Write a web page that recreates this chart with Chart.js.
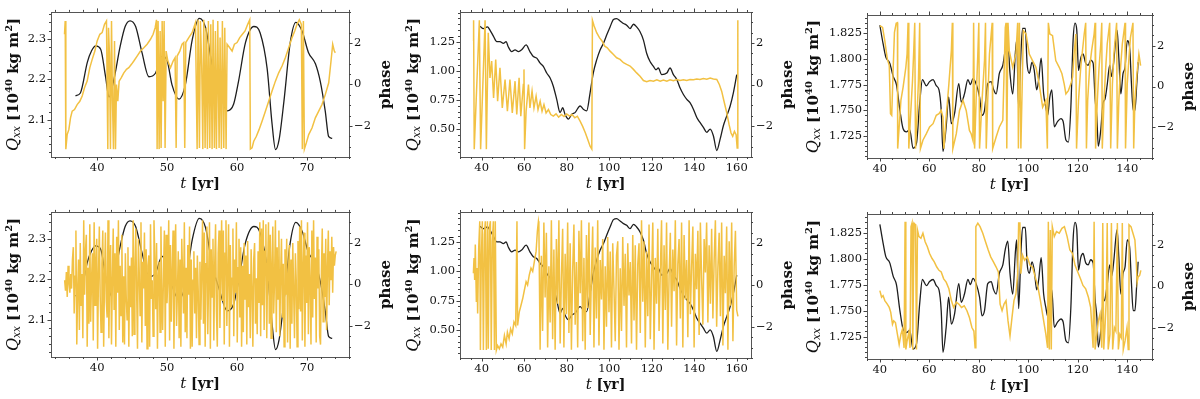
<!DOCTYPE html>
<html>
<head>
<meta charset="utf-8">
<script src="https://cdn.jsdelivr.net/npm/chart.js@4.4.0/dist/chart.umd.min.js"></script>
<style>
  html, body { margin: 0; padding: 0; background: #fff; }
  #fig { position: relative; width: 1200px; height: 399px; overflow: hidden; }
  .panel { position: absolute; width: 400px; height: 200px; }
</style>
</head>
<body>
<div id="fig">
  <div class="panel" style="left:0;top:0"><canvas id="c1" width="400" height="200"></canvas></div>
  <div class="panel" style="left:400px;top:0"><canvas id="c2" width="400" height="200"></canvas></div>
  <div class="panel" style="left:800px;top:0"><canvas id="c3" width="400" height="200"></canvas></div>
  <div class="panel" style="left:0;top:200px"><canvas id="c4" width="400" height="200"></canvas></div>
  <div class="panel" style="left:400px;top:200px"><canvas id="c5" width="400" height="200"></canvas></div>
  <div class="panel" style="left:800px;top:200px"><canvas id="c6" width="400" height="200"></canvas></div>
</div>
<script>
// --- Qxx (negro), comun a cada columna ---
const q1T = [36.9, 37.6, 38.6, 39.2, 39.8, 40.5, 41.2, 41.7, 42.4, 43.3, 44.0, 44.7, 45.5, 46.4, 47.4, 48.3, 49.3, 50.0, 50.7, 51.7, 52.6, 53.6, 54.6, 55.5, 56.4, 57.4, 58.6, 59.5, 60.2, 61.2, 62.4, 63.3, 64.3, 65.0, 65.5, 66.0, 66.7, 67.6, 68.4, 69.3, 70.2, 71.2, 71.9, 72.6, 73.1, 73.6];
const q1V = [2.159, 2.166, 2.242, 2.27, 2.282, 2.274, 2.206, 2.156, 2.2, 2.282, 2.33, 2.344, 2.33, 2.266, 2.206, 2.214, 2.256, 2.246, 2.186, 2.151, 2.186, 2.298, 2.35, 2.327, 2.238, 2.178, 2.122, 2.138, 2.194, 2.29, 2.33, 2.314, 2.226, 2.09, 2.026, 2.05, 2.146, 2.29, 2.34, 2.318, 2.266, 2.238, 2.194, 2.122, 2.058, 2.054];

const q2T = [39.2, 40.8, 42.7, 43.9, 45.5, 47.1, 48.6, 50.2, 51.5, 52.5, 54.1, 55.7, 57.3, 58.8, 60.9, 62.7, 64.3, 65.9, 67.5, 69.0, 70.6, 72.2, 73.7, 75.3, 76.9, 78.1, 79.2, 80.8, 82.4, 83.9, 86.3, 87.8, 89.4, 91.0, 92.5, 94.1, 95.7, 97.3, 98.8, 100.4, 102.0, 103.5, 105.1, 106.7, 108.2, 109.8, 111.4, 112.9, 114.5, 116.1, 117.6, 119.2, 120.8, 122.0, 123.1, 124.7, 127.1, 128.6, 130.2, 131.8, 133.3, 134.9, 136.5, 138.0, 139.6, 141.2, 142.7, 144.3, 145.9, 147.5, 149.0, 150.6, 152.2, 153.7, 155.3, 156.9, 158.4, 160.0];
const q2V = [1.383, 1.363, 1.377, 1.35, 1.298, 1.25, 1.25, 1.236, 1.25, 1.207, 1.165, 1.18, 1.165, 1.18, 1.222, 1.165, 1.123, 1.109, 1.066, 1.038, 0.981, 0.939, 0.868, 0.755, 0.641, 0.684, 0.627, 0.585, 0.627, 0.641, 0.698, 0.67, 0.656, 0.811, 0.981, 1.094, 1.179, 1.236, 1.307, 1.377, 1.44, 1.448, 1.428, 1.406, 1.392, 1.363, 1.4, 1.377, 1.335, 1.264, 1.151, 1.08, 1.038, 1.009, 1.024, 0.967, 0.981, 1.024, 0.967, 0.925, 0.854, 0.797, 0.755, 0.726, 0.67, 0.599, 0.557, 0.514, 0.472, 0.5, 0.443, 0.316, 0.415, 0.528, 0.613, 0.698, 0.811, 0.967];

const q3T = [40.0, 41.3, 42.4, 44.0, 45.4, 46.7, 48.1, 49.4, 50.7, 52.1, 53.4, 54.8, 56.1, 57.2, 58.8, 60.1, 61.5, 62.8, 63.9, 64.8, 65.5, 66.8, 67.8, 68.9, 70.2, 71.9, 72.9, 74.2, 75.6, 76.6, 77.6, 78.9, 80.3, 81.3, 82.3, 83.6, 85.0, 86.0, 87.0, 88.3, 89.7, 90.7, 91.7, 92.6, 93.7, 94.8, 95.3, 96.1, 97.0, 97.7, 98.8, 99.5, 100.4, 101.5, 102.4, 103.4, 104.2, 105.2, 106.2, 107.1, 107.8, 108.7, 109.5, 110.5, 111.8, 113.2, 114.1, 115.2, 116.2, 117.2, 118.1, 118.9, 119.6, 120.3, 121.2, 122.1, 123.2, 124.2, 125.2, 126.2, 127.0, 127.7, 128.3, 129.3, 130.2, 131.0, 131.9, 132.9, 133.7, 134.6, 135.3, 135.9, 136.6, 137.4, 138.3, 139.1, 140.0, 141.0, 141.7, 142.4, 143.1, 143.8, 144.4];
const q3V = [1.833, 1.815, 1.802, 1.796, 1.783, 1.775, 1.75, 1.732, 1.729, 1.731, 1.713, 1.718, 1.757, 1.78, 1.774, 1.778, 1.78, 1.774, 1.77, 1.75, 1.71, 1.734, 1.763, 1.737, 1.747, 1.776, 1.758, 1.766, 1.78, 1.775, 1.781, 1.776, 1.763, 1.745, 1.75, 1.776, 1.778, 1.77, 1.766, 1.786, 1.794, 1.809, 1.817, 1.786, 1.766, 1.807, 1.818, 1.752, 1.805, 1.83, 1.83, 1.796, 1.786, 1.797, 1.789, 1.77, 1.78, 1.801, 1.766, 1.753, 1.745, 1.763, 1.77, 1.734, 1.739, 1.742, 1.739, 1.721, 1.719, 1.753, 1.818, 1.835, 1.828, 1.789, 1.801, 1.805, 1.796, 1.794, 1.799, 1.796, 1.761, 1.744, 1.715, 1.731, 1.757, 1.761, 1.775, 1.794, 1.783, 1.799, 1.818, 1.828, 1.801, 1.766, 1.786, 1.792, 1.818, 1.81, 1.776, 1.75, 1.75, 1.774, 1.797];

// --- fase (amarillo), fila superior ---
const p1T = [35.33, 35.43, 35.52, 35.71, 35.95, 36.19, 36.43, 36.76, 37.14, 37.52, 37.86, 38.19, 38.57, 38.95, 39.29, 39.67, 40.0, 40.38, 40.71, 41.05, 41.33, 41.52, 41.62, 41.76, 41.9, 42.05, 42.19, 42.33, 42.48, 42.62, 42.76, 42.95, 43.14, 43.43, 43.81, 44.19, 44.52, 44.9, 45.24, 45.71, 46.19, 46.67, 47.14, 47.62, 48.0, 48.29, 48.48, 48.57, 48.71, 48.86, 49.0, 49.14, 49.29, 49.43, 49.57, 49.71, 49.86, 50.1, 50.48, 50.86, 51.14, 51.29, 51.43, 51.81, 52.14, 52.38, 52.52, 52.67, 53.1, 53.57, 54.05, 54.29, 54.43, 54.62, 54.76, 54.95, 55.1, 55.24, 55.43, 55.57, 55.76, 55.9, 56.1, 56.24, 56.43, 56.57, 56.76, 56.9, 57.05, 57.24, 57.43, 57.57, 57.76, 57.9, 58.1, 58.24, 58.43, 58.57, 58.95, 59.29, 59.62, 60.0, 60.38, 60.76, 61.14, 61.52, 61.81, 61.9, 62.14, 62.38, 62.76, 63.14, 63.57, 64.05, 64.52, 65.0, 65.48, 65.95, 66.43, 66.9, 67.38, 67.86, 68.24, 68.57, 68.9, 69.19, 69.33, 69.48, 69.62, 69.9, 70.24, 70.71, 71.19, 71.67, 72.14, 72.62, 73.1, 73.43, 73.67, 73.9, 74.05];
const p1V = [2.42, 3.06, -3.12, -2.42, -2.18, -1.61, -1.29, -1.21, -0.97, -0.81, -0.56, -0.16, 0.16, 0.81, 1.21, 1.61, 2.1, 2.42, 2.5, 2.9, 3.06, -3.12, 2.74, 1.45, -3.12, 3.06, -0.81, -3.12, 2.1, -3.12, 0.0, -0.81, 0.16, 0.32, 0.56, 0.73, 0.81, 0.97, 1.13, 1.37, 1.61, 1.77, 1.94, 2.18, 2.42, 2.74, 3.12, -3.12, 3.06, -3.12, 2.58, -3.06, 3.06, -0.81, 3.06, -3.06, 1.61, 1.13, 0.81, 1.13, 1.29, -3.06, 1.37, 1.61, 1.94, 2.02, -3.06, 2.02, 2.26, 2.5, 2.98, -3.12, 3.12, -3.06, 3.06, 0.81, -3.12, 3.12, -3.06, 2.74, -3.12, 3.06, -3.06, 2.9, -3.12, 3.12, -3.06, 2.58, -3.12, 3.06, -3.06, 2.26, -3.12, 3.06, -3.06, 2.74, -3.12, 1.94, 1.77, 1.61, 1.94, 2.02, 2.26, 2.42, 2.58, 2.9, 3.12, -3.12, -3.06, -2.74, -2.5, -2.18, -1.77, -1.29, -0.81, -0.32, 0.16, 0.56, 0.89, 1.29, 1.77, 2.26, 2.58, 2.9, 3.12, 2.9, -3.12, 3.06, -3.12, -2.82, -2.42, -2.1, -1.61, -1.29, -0.97, -0.48, 0.08, 1.13, 1.94, 1.61, 1.53];

const p2T = [36.1, 36.2, 36.5, 38.9, 39.5, 41.6, 42.2, 43.1, 43.9, 44.7, 45.6, 46.6, 47.5, 48.6, 49.7, 51.0, 52.1, 53.3, 54.4, 55.7, 56.5, 57.6, 58.4, 59.6, 59.9, 60.2, 60.9, 62.0, 62.7, 63.7, 64.6, 65.6, 66.5, 67.5, 68.4, 69.3, 70.3, 71.4, 72.5, 73.7, 75.0, 76.2, 77.5, 78.7, 80.0, 81.3, 82.5, 83.8, 85.0, 86.3, 87.5, 88.8, 89.9, 91.0, 91.8, 92.1, 92.9, 94.1, 95.4, 96.6, 97.9, 99.1, 100.4, 102.0, 103.5, 105.1, 106.7, 108.2, 109.8, 111.4, 112.9, 114.5, 116.1, 117.6, 119.2, 120.8, 122.4, 124.0, 125.5, 127.1, 128.6, 130.2, 131.8, 133.3, 134.9, 136.5, 138.0, 139.6, 141.2, 142.7, 144.3, 145.9, 147.5, 149.0, 150.6, 151.8, 152.9, 154.0, 155.3, 156.4, 157.3, 158.1, 158.9, 159.7, 160.2, 160.5];
const p2V = [2.1, 3.1, -3.12, 3.1, -3.12, 3.1, -3.12, 2.5, 0.32, 1.13, -0.65, 1.21, -0.81, 0.81, -1.13, 0.24, -1.29, 0.24, -1.37, 0.16, -1.45, 0.32, -1.53, 0.0, 0.73, -3.12, -1.29, 0.0, -1.13, -0.32, -1.13, -0.56, -1.21, -0.81, -1.29, -0.97, -1.37, -1.21, -1.45, -1.53, -1.42, -1.58, -1.45, -1.55, -1.42, -1.53, -1.45, -1.61, -1.53, -1.77, -2.02, -2.34, -2.66, -2.98, -3.12, 3.1, 2.82, 2.5, 2.26, 2.1, 1.85, 1.77, 1.61, 1.45, 1.29, 1.21, 1.05, 0.97, 0.89, 0.73, 0.56, 0.4, 0.19, 0.13, 0.19, 0.16, 0.23, 0.16, 0.21, 0.16, 0.23, 0.18, 0.24, 0.19, 0.23, 0.19, 0.24, 0.23, 0.27, 0.24, 0.29, 0.26, 0.31, 0.27, 0.24, 0.0, -0.32, -0.81, -1.37, -1.94, -2.34, -2.5, -2.26, -2.42, -3.06, 3.1];

const p3T = [40.0, 41.1, 42.0, 43.0, 43.8, 44.3, 44.8, 45.4, 45.9, 46.6, 47.1, 47.2, 47.8, 48.5, 49.4, 50.5, 51.0, 51.4, 51.7, 52.3, 53.2, 53.7, 54.1, 54.4, 55.0, 55.6, 56.1, 56.4, 57.4, 58.8, 60.1, 61.5, 62.8, 63.9, 64.8, 65.5, 65.9, 66.8, 67.9, 68.9, 69.3, 69.5, 70.9, 72.2, 73.6, 74.9, 76.2, 76.9, 77.6, 77.9, 78.3, 78.9, 79.6, 80.0, 80.3, 81.3, 82.3, 82.7, 83.0, 83.6, 84.3, 85.0, 85.4, 85.6, 87.0, 88.3, 89.7, 90.7, 91.0, 91.3, 91.8, 92.3, 93.7, 95.0, 95.7, 96.0, 96.4, 97.0, 98.0, 99.1, 100.4, 101.7, 103.1, 104.4, 105.8, 107.1, 107.7, 108.1, 108.7, 109.8, 111.1, 112.5, 113.6, 114.5, 115.2, 116.2, 117.2, 117.9, 118.5, 119.2, 119.5, 120.3, 121.2, 121.9, 122.6, 123.2, 123.5, 124.0, 124.8, 125.6, 126.6, 127.0, 127.2, 127.9, 128.6, 129.3, 129.7, 129.9, 130.6, 131.3, 131.9, 132.9, 133.3, 134.0, 134.6, 135.3, 135.7, 136.0, 136.6, 137.3, 138.0, 139.1, 139.3, 140.0, 140.7, 141.3, 142.3, 142.6, 143.1, 143.9, 144.7, 145.4];
const p3V = [2.98, 2.89, 2.24, 1.35, 1.02, -1.33, -1.41, 0.94, 2.65, 3.09, 3.12, -3.04, -1.98, -0.68, -0.03, 0.94, 1.59, 3.12, -3.04, -1.66, 0.29, 1.76, 3.12, -3.04, -1.5, 0.29, 3.12, -3.04, -2.63, -2.31, -1.98, -1.82, -1.41, -1.33, -1.17, -1.5, -3.04, -1.5, 0.13, 1.76, 3.12, -3.04, -2.31, -1.17, -0.68, -1.17, -2.15, -2.31, -2.63, 3.12, -3.04, -0.68, 1.59, 3.12, -3.04, -0.68, 1.27, 3.12, -3.04, -0.68, 1.59, 2.57, 3.12, -3.04, -2.47, -1.98, -1.66, 2.89, 3.12, -3.04, 3.12, 1.76, 0.94, 1.59, 3.12, -3.04, 3.12, -3.04, 2.73, 2.57, 1.59, 1.27, 0.94, 0.13, -1.01, -0.68, -3.04, 3.12, 2.57, 2.49, 1.27, 0.94, 0.62, 0.13, -0.36, -0.2, 0.13, 0.46, 1.59, 2.57, -3.04, -0.68, 0.94, 1.76, 2.57, 3.12, -3.04, -0.68, 0.94, 1.76, 2.57, 3.12, -3.04, -0.68, 0.94, 2.08, 3.12, -3.04, -0.68, 0.94, 2.08, 3.12, -3.04, 0.13, 1.59, 2.57, 3.12, -3.04, -0.68, 0.94, 2.08, 3.12, -3.04, 0.13, 1.43, 2.41, 3.12, -3.04, -0.68, 0.62, 1.59, 1.02];

// --- fase (amarillo), fila inferior ---
const p4Start = 35.35, p4Step = 0.124;
const p4V = [
  0.2, -0.3, 0.6, -0.6, 0.9, 0.1, -0.4, 0.5, -0.2, 1.2,
  1.8, -1.4, 0.4, 2.6, -2.9, -0.3, 1.2, -2.2, 2.0, -1.0, 0.5, -2.6,
  3.1, -0.5, 1.6, 2.4, -3.0, 0.8, -1.9, 2.9, -1.8, 0.2, 1.5, -2.7, 3.0, -1.0, 1.1, 2.2,
  -3.1, 0.4, 2.8, -0.6, -2.3, 1.0, 2.6, -3.0, 0.3, 2.5, -0.8, -1.6, 3.1, -2.6, 0.6, 1.9,
  -2.9, 0.1, 2.7, -1.2, 1.5, -3.0, 2.3, -0.4, 3.1, -2.2, 0.9, -1.5, 2.4, -2.8,
  0.4, -2.9, 1.5, -0.6, -1.7, 1.8, -3.0, 0.9, -1.1, 1.3, -2.5,
  3.1, -2.4, 0.5, 2.7, -0.3, -3.1, 2.2, 0.6, -1.5, 3.0, -2.8, 1.1, -0.2, 2.5, -2.0, 1.7, -3.1, 0.9,
  1.4, -3.0, 2.9, -0.7, 0.2, -2.5, 3.1, 1.2, -1.2, 2.0, -3.1, 0.4, 1.1, -2.3, 2.8, -0.5, -2.2, 0.7, 2.6, -3.0,
  2.4, -0.9, 0.3, 3.1, -2.7, 1.9, -1.8, 0.6, 2.6, -3.1, 0.5, 2.9, -2.0, -0.4, 1.6, -2.6,
  1.2, -3.0, 2.2, 0.4, -1.4, 3.0, -2.3, 0.8, -2.6, 1.9, -0.5, 2.8, -3.1,
  1.2, -3.0, 0.2, 1.6, -1.4, 0.8, -2.6, 1.4, -0.3, -2.9, 1.1, -1.7, 0.6,
  3.1, -1.9, 2.5, -3.0, 1.0, 2.8, -2.4, 0.3, 3.0, -3.1, 1.7, -0.6, 2.2, -2.7, 0.9, 2.9, -1.3, -3.0, 1.5, 2.6, -2.1, 0.4, 3.1,
  -0.8, 2.6, -2.9, 1.5, 3.1, -2.0, 0.6, 2.9, -3.0, 1.9, -1.1, 0.3, 2.7, -2.5, 1.2, -0.4, 3.0, -2.8, 0.8, 2.2,
  -1.6, 1.8, -3.0, 0.9, -2.3, 2.0, -0.7, 1.4, -2.9, 2.1, -1.1, 0.5, -2.6, 1.7, -0.2, -3.0, 1.2, 2.0, -1.9, 0.3, -2.4, 1.6, -0.9,
  3.0, -2.5, 2.7, -1.0, 3.1, -2.2, 1.6, 2.9, -2.6, 0.8, 3.0, -1.9, 2.4, -2.6, 1.0, 2.8, -1.4, 0.2, 3.1, -2.3, 1.8, -0.7, 2.6, -2.5, 0.5, 2.2, -1.6,
  1.0, -3.0, 1.7, -0.5, 2.2, -2.8, 0.4, 1.9, -3.1, 1.2, -1.9, 2.0, -0.3, -2.6, 1.5, 0.2, -3.0, 2.1, -1.2,
  2.8, -1.3, 3.1, -2.7, 0.9, 2.5, -3.0, 1.4, -0.9, 3.0, -2.4, 1.8, 0.1, -2.9, 2.6, -1.6, 3.1, -0.7, 1.3, -2.8, 2.3, -0.2, 1.7, -2.5,
  -2.9, 0.6, 2.7, -1.8, 1.5, -0.6, 2.2, -2.2, 0.8, 2.6, -1.0, 1.6, 0.2, 2.3, -0.4, 1.8, 0.9, 1.4, 1.6
];

const p5aT = [36.1, 36.4, 36.7, 37.0, 37.5, 37.8, 38.1, 38.6, 39.1, 39.4, 39.8, 40.3, 40.8, 41.3, 41.7, 42.2, 42.7, 43.1, 43.6, 44.1, 44.5, 45.0, 45.5, 46.0, 46.4, 46.9, 47.5, 48.3, 49.1, 49.9, 50.7, 51.5, 52.1, 52.9, 53.6, 54.4, 55.2, 56.0, 56.6, 56.9, 57.7, 58.5, 59.3, 60.1, 60.9, 61.6, 62.4, 63.2, 64.0, 64.8, 65.6, 66.2, 66.7];
const p5aV = [0.56, 1.29, 0.24, 1.94, -0.81, 0.81, -1.37, 1.77, 3.06, -3.12, 1.13, 3.06, -3.12, 2.42, 3.06, -3.12, 3.06, -3.06, 2.74, 3.06, -3.12, 2.1, 3.06, -3.12, 3.06, -3.12, -2.9, -3.06, -2.82, -2.98, -2.42, -2.82, -2.26, -2.58, -2.1, -2.34, -1.77, -1.94, 3.06, -1.94, -1.29, -0.97, -0.65, -0.24, 0.16, 0.0, 0.48, 0.81, 0.65, 1.13, 1.61, 2.58, 3.06];
const p5bStart = 66.9, p5bStep = 0.589;
const p5bV = [2.9, -3.1, 1.4, -2.2, 3.0, -0.6, 2.5, -3.0, 0.9, -1.8, 3.1, -2.6, 1.7, -3.1, 2.2, -0.9, 3.1, -2.8, 0.3, 2.7, -3.0, 1.5, -1.4, 3.0, -2.3, 2.0, -3.1, 0.7, 2.9, -1.9, 1.1, -3.0, 2.6, -0.4, 3.1, -2.7, 1.3, -3.1, 2.4, -1.1, 3.0, -2.4, 0.5, 2.8, -3.0, 1.8, -1.6, 3.1, -2.9, 1.2, -0.7, 2.2, -3.1, 0.9, -2.0, 2.3, -1.3, 1.6, -3.0, 2.0, -0.2, -2.7, 1.4, 2.1, -3.1, 0.8, -2.2, 2.3, -1.0, 1.5, -3.0, 2.0, -0.5, 1.1, -2.8, 2.4, -1.7, 1.9, -3.1, 1.0, 2.0, -2.3, 3.1, -0.8, 2.1, -3.0, 1.6, -1.5, 2.9, -2.6, 0.2, 3.0, -3.1, 1.3, -0.9, 2.7, -2.2, 0.6, 3.1, -2.8, 1.9, -1.2, 3.0, -3.1, 0.4, 2.5, -2.0, 1.7, -0.3, 3.1, -2.9, 1.0, 2.2, -1.6, 3.0, -3.0, 2.4, -0.7, 1.2, -2.5, 3.1, -1.4, 0.9, 2.8, -3.0, 1.5, -0.2, 2.6, -2.4, 3.0, 0.3, -1.9, 2.2, 0.6, 3.0, -1.8, 1.9, -0.9, 2.7, -1.6, 1.2, 3.1, -2.0, 0.8, 2.5, -1.5, 3.0, -2.9, 1.4, -0.4, 2.8, -3.1, 2.1, -1.0, 3.0, -2.7, 0.9, 2.6, -1.2, -1.5];

const p6T = [40.0, 40.7, 41.3, 42.0, 43.0, 43.8, 44.4, 45.1, 45.6, 46.3, 47.1, 47.8, 48.5, 49.1, 49.8, 50.2, 50.5, 51.0, 51.7, 52.2, 52.6, 53.0, 53.3, 53.8, 54.4, 54.8, 55.2, 55.8, 56.6, 57.4, 58.3, 59.2, 60.1, 61.1, 62.0, 63.0, 63.9, 64.8, 65.8, 66.8, 67.9, 68.9, 69.8, 70.9, 71.9, 73.0, 74.1, 75.2, 76.2, 77.2, 78.0, 78.5, 78.8, 79.6, 80.5, 81.6, 82.7, 83.8, 84.8, 85.9, 87.0, 87.9, 88.6, 89.4, 90.2, 91.0, 91.8, 92.6, 93.4, 94.2, 95.0, 95.7, 96.1, 96.6, 97.0, 97.7, 98.5, 99.6, 100.7, 101.7, 102.8, 103.9, 104.9, 106.0, 107.1, 107.8, 108.1, 108.5, 108.9, 109.3, 109.7, 110.5, 111.4, 112.5, 113.6, 114.6, 115.7, 116.8, 117.9, 118.9, 120.0, 121.1, 122.1, 123.2, 124.3, 125.2, 126.2, 126.6, 127.0, 127.7, 128.3, 129.0, 129.7, 130.1, 130.5, 131.0, 131.5, 131.9, 132.3, 133.0, 133.6, 134.1, 134.8, 135.4, 136.0, 136.4, 137.0, 137.6, 138.0, 138.4, 139.1, 139.9, 140.4, 140.7, 141.5, 142.3, 143.1, 143.6, 144.0, 144.4, 145.0, 145.5];
const p6V = [-0.2, -0.52, -0.44, -0.68, -0.85, -1.01, -1.25, -1.82, -1.66, -1.74, -2.31, -2.8, -2.31, -2.07, -2.96, 3.12, -3.04, -2.63, -2.23, -2.96, 2.89, 3.06, -3.04, 3.06, 2.98, -3.04, 2.73, 2.41, 2.33, 2.57, 2.16, 1.92, 1.59, 1.35, 1.19, 0.94, 0.78, 0.7, 0.37, 0.21, -0.11, -0.68, -1.01, -0.76, -0.85, -1.01, -0.93, -1.17, -1.5, -1.98, -2.15, -2.96, 2.89, 3.06, 2.89, 2.57, 2.16, 1.76, 1.43, 1.19, 0.94, 0.7, -0.85, -1.17, -0.85, -0.68, -1.66, -2.39, -1.5, -0.68, -0.36, 0.62, 3.06, 3.06, 0.62, 1.51, 1.27, 1.43, 1.02, 0.94, 0.46, -0.03, -0.68, -1.5, -2.31, -2.96, 3.12, -3.04, 2.73, -3.04, 2.89, 2.41, 2.65, 2.57, 2.81, 2.89, 2.41, 1.76, 1.59, 1.02, 0.7, 0.37, 0.05, -0.11, -0.52, -1.01, -2.96, 3.12, -3.04, -2.31, -1.66, -1.33, -2.96, 3.06, -3.04, -1.98, -0.68, 3.06, -3.04, -2.31, 3.06, -3.04, -1.98, -2.15, 3.06, -3.04, -2.31, -2.47, 3.06, -3.04, -2.63, -1.98, -3.04, 2.98, 2.89, 2.57, 2.24, 1.27, 0.21, 0.46, 0.54, 0.78];

// --- ejes ---
const x1Ticks = [40, 50, 60, 70];
const x2Ticks = [40, 60, 80, 100, 120, 140, 160];
const x3Ticks = [40, 60, 80, 100, 120, 140];
const y1Ticks = [2.1, 2.2, 2.3];
const y2Ticks = [0.5, 0.75, 1.0, 1.25];
const y3Ticks = [1.725, 1.75, 1.775, 1.8, 1.825];
const phaseTicks = [-2, 0, 2];

const p4T = p4V.map((v, i) => +(p4Start + i * p4Step).toFixed(3));
const p5T = p5aT.concat(p5bV.map((v, i) => +(p5bStart + i * p5bStep).toFixed(3)));
const p5V = p5aV.concat(p5bV);

const YELLOW = '#f2c143';
const BLACK = '#1e1e1e';
const SERIF = "'DejaVu Serif', serif";

function pares(t, v) {
  return t.map((x, i) => ({ x: x, y: v[i] }));
}

function fmt(v, dec) {
  return v.toFixed(dec).replace('-', '\u2212');
}

function textoRico(ctx, parts, x, y, rot) {
  ctx.save();
  ctx.translate(x, y);
  ctx.rotate(rot);
  ctx.textBaseline = 'middle';
  ctx.textAlign = 'left';
  ctx.fillStyle = '#111';
  let w = 0;
  parts.forEach(p => { ctx.font = p.font; p.w = ctx.measureText(p.text).width; w += p.w; });
  let cx = -w / 2;
  parts.forEach(p => { ctx.font = p.font; ctx.fillText(p.text, cx, p.dy || 0); cx += p.w; });
  ctx.restore();
}

function marcas(ctx, scale, side, major, minorStep, a) {
  const lista = major.map(v => [v, 3.5]);
  for (let k = Math.ceil(scale.min / minorStep - 1e-9); k * minorStep <= scale.max + 1e-9; k++) {
    const v = k * minorStep;
    if (!major.some(m => Math.abs(m - v) < minorStep * 0.01)) lista.push([v, 2]);
  }
  lista.forEach(([v, len]) => {
    const p = Math.round(scale.getPixelForValue(v)) + 0.5;
    ctx.beginPath();
    if (side === 'bottom') { ctx.moveTo(p, a.bottom); ctx.lineTo(p, a.bottom + len); }
    if (side === 'top') { ctx.moveTo(p, a.top); ctx.lineTo(p, a.top - len); }
    if (side === 'left') { ctx.moveTo(a.left, p); ctx.lineTo(a.left - len, p); }
    if (side === 'right') { ctx.moveTo(a.right, p); ctx.lineTo(a.right + len, p); }
    ctx.stroke();
  });
}

const marcoPlugin = {
  id: 'marco',
  afterDraw(chart) {
    const cfg = chart.options.plugins.marco;
    const ctx = chart.ctx;
    const a = chart.chartArea;
    ctx.save();
    ctx.strokeStyle = '#555';
    ctx.lineWidth = 1;
    ctx.strokeRect(Math.round(a.left) + 0.5, Math.round(a.top) + 0.5, Math.round(a.right - a.left), Math.round(a.bottom - a.top));
    ctx.strokeStyle = '#444';
    marcas(ctx, chart.scales.x, 'bottom', cfg.xTicks, cfg.xMinor, a);
    marcas(ctx, chart.scales.x, 'top', cfg.xTicks, cfg.xMinor, a);
    marcas(ctx, chart.scales.y, 'left', cfg.yTicks, cfg.yMinor, a);
    marcas(ctx, chart.scales.y2, 'right', phaseTicks, 0.5, a);
    ctx.restore();

    const cy = (a.top + a.bottom) / 2;
    textoRico(ctx, [
      { text: 'Q', font: 'italic 16px ' + SERIF },
      { text: 'xx', font: 'italic 10.5px ' + SERIF, dy: 3 },
      { text: ' [10', font: 'bold 15px ' + SERIF },
      { text: '40', font: 'bold 10px ' + SERIF, dy: -5 },
      { text: ' kg m', font: 'bold 15px ' + SERIF },
      { text: '2', font: 'bold 10px ' + SERIF, dy: -5 },
      { text: ']', font: 'bold 15px ' + SERIF }
    ], 14, cy, -Math.PI / 2);
    textoRico(ctx, [{ text: 'phase', font: 'bold 15px ' + SERIF }], a.right + 37, cy, -Math.PI / 2);
    textoRico(ctx, [
      { text: 't', font: 'italic 15px ' + SERIF },
      { text: ' [yr]', font: 'bold 14px ' + SERIF }
    ], (a.left + a.right) / 2, a.bottom + 27, 0);
  }
};

function panel(p) {
  const ar = p.area;
  const tickFont = { family: SERIF, size: 11.5 };
  new Chart(document.getElementById(p.id), {
    type: 'line',
    data: {
      datasets: [
        { data: pares(p.pT, p.pV), yAxisID: 'y2', borderColor: YELLOW, borderWidth: 1.5, pointRadius: 0, tension: 0, order: 0 },
        { data: pares(p.qT, p.qV), yAxisID: 'y', borderColor: BLACK, borderWidth: 1.3, pointRadius: 0, cubicInterpolationMode: 'monotone', order: 1 }
      ]
    },
    options: {
      responsive: false,
      animation: false,
      events: [],
      layout: { padding: { top: ar.t, left: 0, right: 0, bottom: 0 } },
      plugins: {
        legend: { display: false },
        tooltip: { enabled: false },
        marco: { xTicks: p.xTicks, xMinor: p.xMinor, yTicks: p.yTicks, yMinor: p.yMinor }
      },
      scales: {
        x: {
          type: 'linear', position: 'bottom', min: p.xMin, max: p.xMax,
          afterBuildTicks: s => { s.ticks = p.xTicks.map(v => ({ value: v })); },
          afterFit: s => { s.height = 200 - ar.b; },
          grid: { display: false, drawTicks: false }, border: { display: false },
          ticks: { font: tickFont, color: '#111', padding: 4, maxRotation: 0, autoSkip: false, callback: v => fmt(v, 0) }
        },
        y: {
          type: 'linear', position: 'left', min: p.yMin, max: p.yMax,
          afterBuildTicks: s => { s.ticks = p.yTicks.map(v => ({ value: v })); },
          afterFit: s => { s.width = ar.l; },
          grid: { display: false, drawTicks: false }, border: { display: false },
          ticks: { font: tickFont, color: '#111', padding: 5, autoSkip: false, callback: v => fmt(v, p.yDec) }
        },
        y2: {
          type: 'linear', position: 'right', min: -3.5, max: 3.5,
          afterBuildTicks: s => { s.ticks = phaseTicks.map(v => ({ value: v })); },
          afterFit: s => { s.width = 400 - ar.r; },
          grid: { display: false, drawTicks: false }, border: { display: false },
          ticks: { font: tickFont, color: '#111', padding: 5, autoSkip: false, callback: v => fmt(v, 0) }
        }
      }
    },
    plugins: [marcoPlugin]
  });
}

const col1 = { xMin: 33.4, xMax: 76.0, xTicks: x1Ticks, xMinor: 2, yMin: 2.008, yMax: 2.366, yTicks: y1Ticks, yMinor: 0.02, yDec: 1, qT: q1T, qV: q1V };
const col2 = { xMin: 29.8, xMax: 166.7, xTicks: x2Ticks, xMinor: 5, yMin: 0.26, yMax: 1.505, yTicks: y2Ticks, yMinor: 0.05, yDec: 2, qT: q2T, qV: q2V };
const col3 = { xMin: 34.8, xMax: 150.0, xTicks: x3Ticks, xMinor: 5, yMin: 1.7035, yMax: 1.843, yTicks: y3Ticks, yMinor: 0.005, yDec: 3, qT: q3T, qV: q3V };

panel(Object.assign({}, col1, { id: 'c1', pT: p1T, pV: p1V, area: { l: 51, t: 9, r: 349, b: 157 } }));
panel(Object.assign({}, col2, { id: 'c2', pT: p2T, pV: p2V, area: { l: 60, t: 12, r: 351, b: 157 } }));
panel(Object.assign({}, col3, { id: 'c3', pT: p3T, pV: p3V, area: { l: 67, t: 15, r: 352, b: 158 } }));
panel(Object.assign({}, col1, { id: 'c4', pT: p4T, pV: p4V, area: { l: 51, t: 9, r: 349, b: 157 } }));
panel(Object.assign({}, col2, { id: 'c5', pT: p5T, pV: p5V, area: { l: 60, t: 12, r: 351, b: 158 } }));
panel(Object.assign({}, col3, { id: 'c6', pT: p6T, pV: p6V, area: { l: 67, t: 14, r: 352, b: 159 } }));
</script>
</body>
</html>
